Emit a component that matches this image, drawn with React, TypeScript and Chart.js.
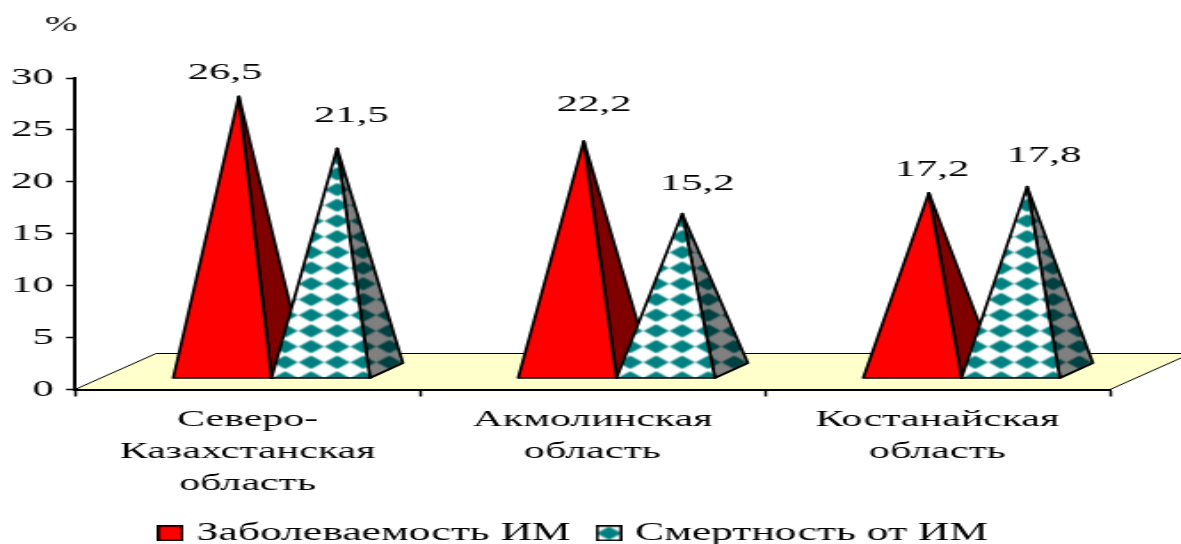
import React, { useEffect, useRef } from "react";
import { Chart, registerables } from "chart.js";

Chart.register(...registerables);

const regions = [["Северо-", "Казахстанская", "область"], ["Акмолинская", "область"], ["Костанайская", "область"]];
const incidence = [26.5, 22.2, 17.2];
const mortality = [21.5, 15.2, 17.8];
const seriesNames = ["Заболеваемость ИМ", "Смертность от ИМ"];
const axisMax = 30;
const axisStep = 5;
// Hand-placed value captions, relative to each apex [series][region] in screen pixels.
const captionNudges = [
  [[-14, -24], [10, -36], [3, -23]],
  [[14, -33], [15, -30], [17, -31]],
];

// The drawing surface is narrower than the element, so everything is widened horizontally.
const PAGE_W = 1181;
const PAGE_H = 544;
const SURFACE_W = 664;
const K = PAGE_W / SURFACE_W;
const FONT = "'Liberation Serif'";

const FLOOR_DX = 81 / K;
const FLOOR_DY = 36;
const BASE_SHIFT_X = 24 / K;
const BASE_LIFT = 11;
const SIDE_DX = 33 / K;
const SIDE_DY = 15;
const APEX_LIFT = 18;
const CELL_W = 26 / K;
const CELL_H = 15.7;
const LEGEND_SHIFT_X = 22 / K;
const LEGEND_TOP = 502;
const BELOW_AXIS = 156;
const LEGEND_SLOT = 55;

function diamondTile(paper: string, ink: string) {
  const tile = document.createElement("canvas");
  tile.width = 60;
  tile.height = 72;
  const c = tile.getContext("2d")!;
  c.fillStyle = paper;
  c.fillRect(0, 0, 60, 72);
  c.filter = "blur(3px)";
  c.fillStyle = ink;
  c.beginPath();
  c.moveTo(30, 5);
  c.lineTo(59, 36);
  c.lineTo(30, 67);
  c.lineTo(1, 36);
  c.closePath();
  c.fill();
  return tile;
}

function anchoredPattern(ctx: CanvasRenderingContext2D, tile: HTMLCanvasElement, x: number, y: number) {
  const p = ctx.createPattern(tile, "repeat")!;
  p.setTransform(new DOMMatrix().translate(x - CELL_W / 2, y - CELL_H / 2).scale(CELL_W / 60, CELL_H / 72));
  return p;
}

function polygon(ctx: CanvasRenderingContext2D, pts: number[][], fill: string | CanvasPattern) {
  ctx.beginPath();
  pts.forEach(([x, y], i) => (i ? ctx.lineTo(x, y) : ctx.moveTo(x, y)));
  ctx.closePath();
  ctx.fillStyle = fill;
  ctx.fill();
  ctx.stroke();
}

// Small framed swatch used as a legend marker.
function legendSwatch(fill: string | CanvasPattern) {
  const m = document.createElement("canvas");
  m.width = 15;
  m.height = 16;
  const c = m.getContext("2d")!;
  c.fillStyle = fill;
  c.fillRect(0, 0, 15, 16);
  c.strokeStyle = "#000";
  c.lineWidth = 1.6;
  c.strokeRect(0.8, 0.8, 13.4, 14.4);
  return m;
}

export default function App() {
  const ref = useRef<HTMLCanvasElement>(null);

  useEffect(() => {
    const canvas = ref.current!;
    const ctx = canvas.getContext("2d")!;
    const frontTile = diamondTile("#ffffff", "#008080");
    const sideTile = diamondTile("#808080", "#004040");
    const swatches = [legendSwatch("#ff0000"), legendSwatch(anchoredPattern(ctx, frontTile, 7.5, 8))];

    const pyramids = {
      id: "pyramids",
      // Seat the legend low and right of its default slot.
      afterLayout(chart: any) {
        const l = chart.legend;
        const h = l.bottom - l.top;
        l.left += LEGEND_SHIFT_X;
        l.right += LEGEND_SHIFT_X;
        l.top = LEGEND_TOP;
        l.bottom = LEGEND_TOP + h;
      },
      // Bars only provide the geometry; the pyramids below replace them.
      beforeDatasetDraw() {
        return false;
      },
      beforeDatasetsDraw(chart: any) {
        const { left, right, bottom } = chart.chartArea;
        const c = chart.ctx;
        c.save();
        c.lineJoin = "round";

        // Yellow floor of the 3D plot
        c.strokeStyle = "#000";
        c.lineWidth = 1;
        polygon(
          c,
          [[left, bottom], [right, bottom], [right + FLOOR_DX, bottom - FLOOR_DY], [left + FLOOR_DX, bottom - FLOOR_DY]],
          "#ffffcc",
        );

        regions.forEach((_, i) => {
          chart.data.datasets.forEach((_d: any, s: number) => {
            const bar = chart.getDatasetMeta(s).data[i];
            const half = bar.width / 2;
            const x0 = bar.x - half + BASE_SHIFT_X;
            const x1 = bar.x + half + BASE_SHIFT_X;
            const yb = bar.base - BASE_LIFT;
            const ax = bar.x + BASE_SHIFT_X + SIDE_DX / 2;
            const ay = bar.y - APEX_LIFT;
            const side = [[x1, yb], [x1 + SIDE_DX, yb - SIDE_DY], [ax, ay]];
            const front = [[x0, yb], [x1, yb], [ax, ay]];
            c.lineWidth = 1.7;
            c.strokeStyle = "#000";
            polygon(c, side, s === 0 ? "#800000" : anchoredPattern(c, sideTile, ax, yb));
            polygon(c, front, s === 0 ? "#ff0000" : anchoredPattern(c, frontTile, ax, yb));
          });
        });
        c.restore();
      },
      afterDatasetsDraw(chart: any) {
        const c = chart.ctx;
        c.save();
        c.fillStyle = "#000";
        c.font = `24px ${FONT}`;
        c.textAlign = "center";
        c.textBaseline = "middle";
        chart.data.datasets.forEach((d: any, s: number) => {
          d.data.forEach((v: number, i: number) => {
            const bar = chart.getDatasetMeta(s).data[i];
            const [nx, ny] = captionNudges[s][i];
            const ax = bar.x + BASE_SHIFT_X + SIDE_DX / 2;
            c.fillText(v.toFixed(1).replace(".", ","), ax + nx / K, bar.y - APEX_LIFT + ny);
          });
        });
        // Unit above the value axis
        const y = chart.scales.y;
        c.font = `22px ${FONT}`;
        c.fillText("%", y.right - 14 / K, 25);
        c.restore();
      },
    };

    const chart = new Chart(canvas, {
      type: "bar",
      data: {
        labels: regions as any,
        datasets: [
          { label: seriesNames[0], data: incidence, backgroundColor: "#ff0000", borderColor: "#000", borderWidth: 1 },
          {
            label: seriesNames[1],
            data: mortality,
            backgroundColor: anchoredPattern(ctx, frontTile, 610 / K, 532) as any,
            borderColor: "#000",
            borderWidth: 1,
          },
        ],
      },
      options: {
        responsive: false,
        devicePixelRatio: 1,
        animation: false,
        categoryPercentage: 0.57,
        barPercentage: 1,
        layout: { padding: { top: 78, left: 0, right: SURFACE_W - 1110 / K, bottom: 0 } },
        plugins: {
          tooltip: { enabled: false },
          legend: {
            position: "bottom",
            labels: {
              font: { family: FONT, size: 24.5 },
              color: "#000",
              usePointStyle: true,
              pointStyleWidth: 5,
              boxHeight: 16,
              padding: 19,
              generateLabels: (c: any) =>
                Chart.defaults.plugins.legend.labels
                  .generateLabels(c)
                  .map((item: any, i: number) => ({ ...item, pointStyle: swatches[i] })),
            },
          },
        },
        scales: {
          x: {
            grid: { drawOnChartArea: false, tickColor: "#000", tickWidth: 1.5, tickLength: 7 },
            border: { color: "#000", width: 2, z: 1 },
            ticks: {
              color: "#000",
              font: { family: FONT, size: 23.6, lineHeight: 1.36 },
              maxRotation: 0,
              autoSkip: false,
              padding: 7,
            },
            afterFit(scale: any) {
              scale.height = BELOW_AXIS - LEGEND_SLOT;
            },
          },
          y: {
            min: 0,
            max: axisMax,
            grid: { drawOnChartArea: false, tickColor: "#000", tickWidth: 1.5, tickLength: 5 },
            border: { color: "#000", width: 2, z: 1 },
            ticks: { stepSize: axisStep, color: "#000", font: { family: FONT, size: 24 }, padding: 7 },
            afterFit(scale: any) {
              scale.width = 75 / K;
            },
          },
        },
      } as any,
      plugins: [pyramids as any],
    });
    return () => chart.destroy();
  }, []);

  return (
    <div style={{ position: "fixed", left: 0, top: 0, width: PAGE_W, height: PAGE_H, background: "#fff" }}>
      <canvas ref={ref} width={SURFACE_W} height={PAGE_H} style={{ width: PAGE_W, height: PAGE_H, display: "block" }} />
    </div>
  );
}
